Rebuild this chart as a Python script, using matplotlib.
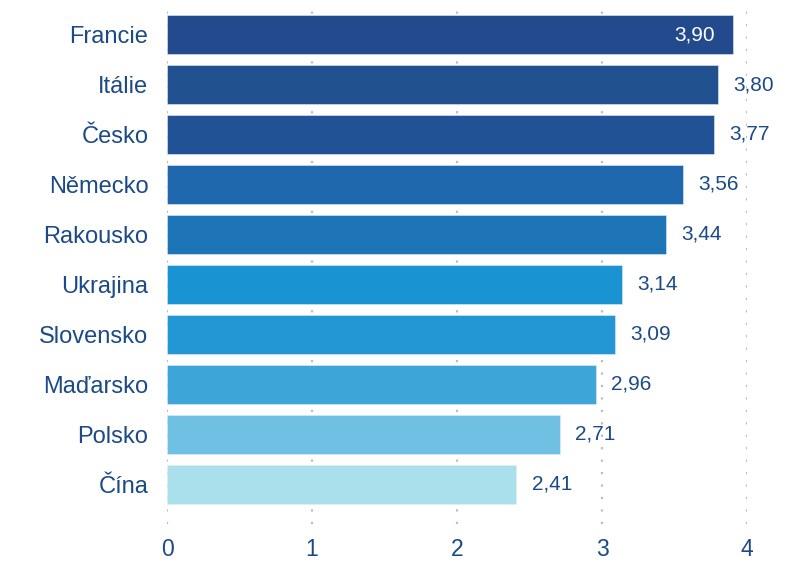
import matplotlib
matplotlib.use("Agg")
import matplotlib.pyplot as plt

countries = ["Francie", "Itálie", "Česko", "Německo", "Rakousko",
             "Ukrajina", "Slovensko", "Maďarsko", "Polsko", "Čína"]
values = [3.90, 3.80, 3.77, 3.56, 3.44, 3.14, 3.09, 2.96, 2.71, 2.41]
colors = ["#244A8E", "#22518F", "#225296", "#1F68AD", "#1D74B7",
          "#1A93D2", "#2397D3", "#3DA5D8", "#6FC0E3", "#A9E0EC"]
xticks = [0, 1, 2, 3, 4]

plt.rcParams['font.family'] = ['Liberation Sans', 'DejaVu Sans']
text_color = "#1B4A86"

fig = plt.figure(figsize=(7.87, 5.65), dpi=100)
ax = fig.add_axes([0.2122, 0.0726, 0.7370, 0.9150])

ypos = list(range(len(countries)))
ax.barh(ypos, values, height=0.79, color=colors, zorder=2,
        edgecolor="#E3ECF5", linewidth=0.4)

for y, v in zip(ypos, values):
    label = f"{v:.2f}".replace(".", ",")
    if v >= 3.85:
        ax.text(v - 0.12, y, label, ha="right", va="center",
                color="white", fontsize=15, zorder=3)
    else:
        ax.text(v + 0.105, y, label, ha="left", va="center",
                color=text_color, fontsize=15, zorder=3)

ax.set_xlim(0, 4)
ax.set_ylim(9.79, -0.55)
ax.set_yticks(ypos)
ax.set_yticklabels(countries)
ax.set_xticks(xticks)
ax.set_xticklabels([str(t) for t in xticks])
ax.tick_params(axis="y", length=0, pad=13.5, labelsize=17, labelcolor=text_color)
ax.tick_params(axis="x", length=0, pad=10, labelsize=16.5, labelcolor=text_color)
ax.xaxis.grid(True, color="#BDBDBD", linestyle=(0, (1, 4.6)), linewidth=1.6, zorder=0)
ax.yaxis.grid(False)
ax.set_axisbelow(True)
for s in ax.spines.values():
    s.set_visible(False)

fig.savefig("out.png", dpi=100)
